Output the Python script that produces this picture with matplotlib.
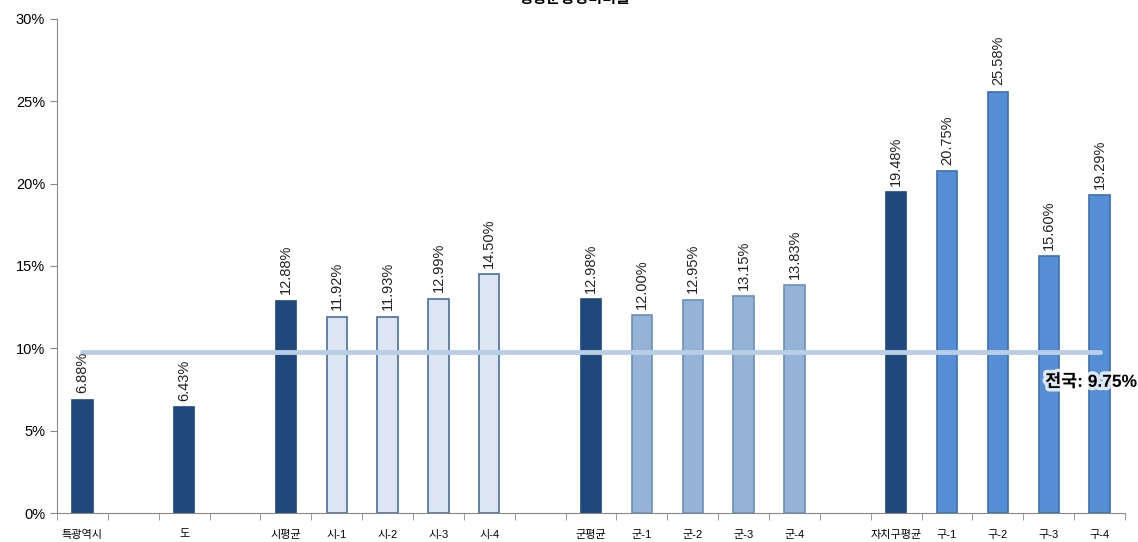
import numpy as np
import matplotlib.pyplot as plt
import matplotlib.patheffects as pe

plt.rcParams['font.family'] = ['Liberation Sans', 'Noto Sans CJK KR', 'DejaVu Sans']

# categories, blank strings leave gaps between the groups
labels = ['특광역시', '', '도', '', '시평균', '시-1', '시-2', '시-3', '시-4', '',
          '군평균', '군-1', '군-2', '군-3', '군-4', '',
          '자치구평균', '구-1', '구-2', '구-3', '구-4']
values = [6.88, None, 6.43, None, 12.88, 11.92, 11.93, 12.99, 14.50, None,
          12.98, 12.00, 12.95, 13.15, 13.83, None,
          19.48, 20.75, 25.58, 15.60, 19.29]
national = 9.75

dark = '#1f487c'
fills = {'avg': dark, '시': '#dce6f2', '군': '#95b3d7', '구': '#558ed5'}
edges = {'avg': dark, '시': '#4a6fa0', '군': '#6a8fbf', '구': '#3c6fae'}

fig = plt.figure(figsize=(11.38, 5.42), dpi=100)
ax = fig.add_axes([0.0501, 0.0535, 0.9385, 0.9115])

x = np.arange(len(labels))
for i, (lab, v) in enumerate(zip(labels, values)):
    if v is None:
        continue
    if lab in ('특광역시', '도') or lab.endswith('평균'):
        key = 'avg'
    else:
        key = lab[0]
    ax.bar(i, v, width=0.4, color=fills[key], edgecolor=edges[key], linewidth=1.2, zorder=2)
    ax.text(i, v + 0.4, f'{v:.2f}%', rotation=90, ha='center', va='bottom',
            fontsize=10.5, color='#222222', zorder=4)

# national average line
ax.plot([x[0], x[-1]], [national, national], color='#b9cde5', linewidth=3.5,
        solid_capstyle='round', zorder=3)
ax.text(x[-1] + 0.74, national - 1.75, f'전국: {national:.2f}%', ha='right', va='center',
        fontsize=12.5, fontweight='bold', color='black', zorder=5,
        path_effects=[pe.withStroke(linewidth=5, foreground='white', alpha=0.8)])

ax.set_xlim(-0.5, len(labels) - 0.5)
ax.set_ylim(0, 30)
ax.set_yticks(range(0, 31, 5))
ax.set_yticklabels([f'{t}%' for t in range(0, 31, 5)], fontsize=10.5)
ax.set_xticks(x)
ax.set_xticklabels(labels, fontsize=8)
ax.set_xticks(np.arange(-0.5, len(labels)), minor=True)
ax.tick_params(axis='x', which='major', length=0, pad=12)
ax.tick_params(axis='x', which='minor', length=5, direction='out', color='#888888')
ax.tick_params(axis='y', length=5, direction='out', color='#888888')

for s in ('top', 'right'):
    ax.spines[s].set_visible(False)
for s in ('left', 'bottom'):
    ax.spines[s].set_color('#888888')

fig.text(0.505, 1.002, '행정운영경비비율', ha='center', va='center', fontsize=11, fontweight='bold')

fig.savefig('out.png', dpi=100)
